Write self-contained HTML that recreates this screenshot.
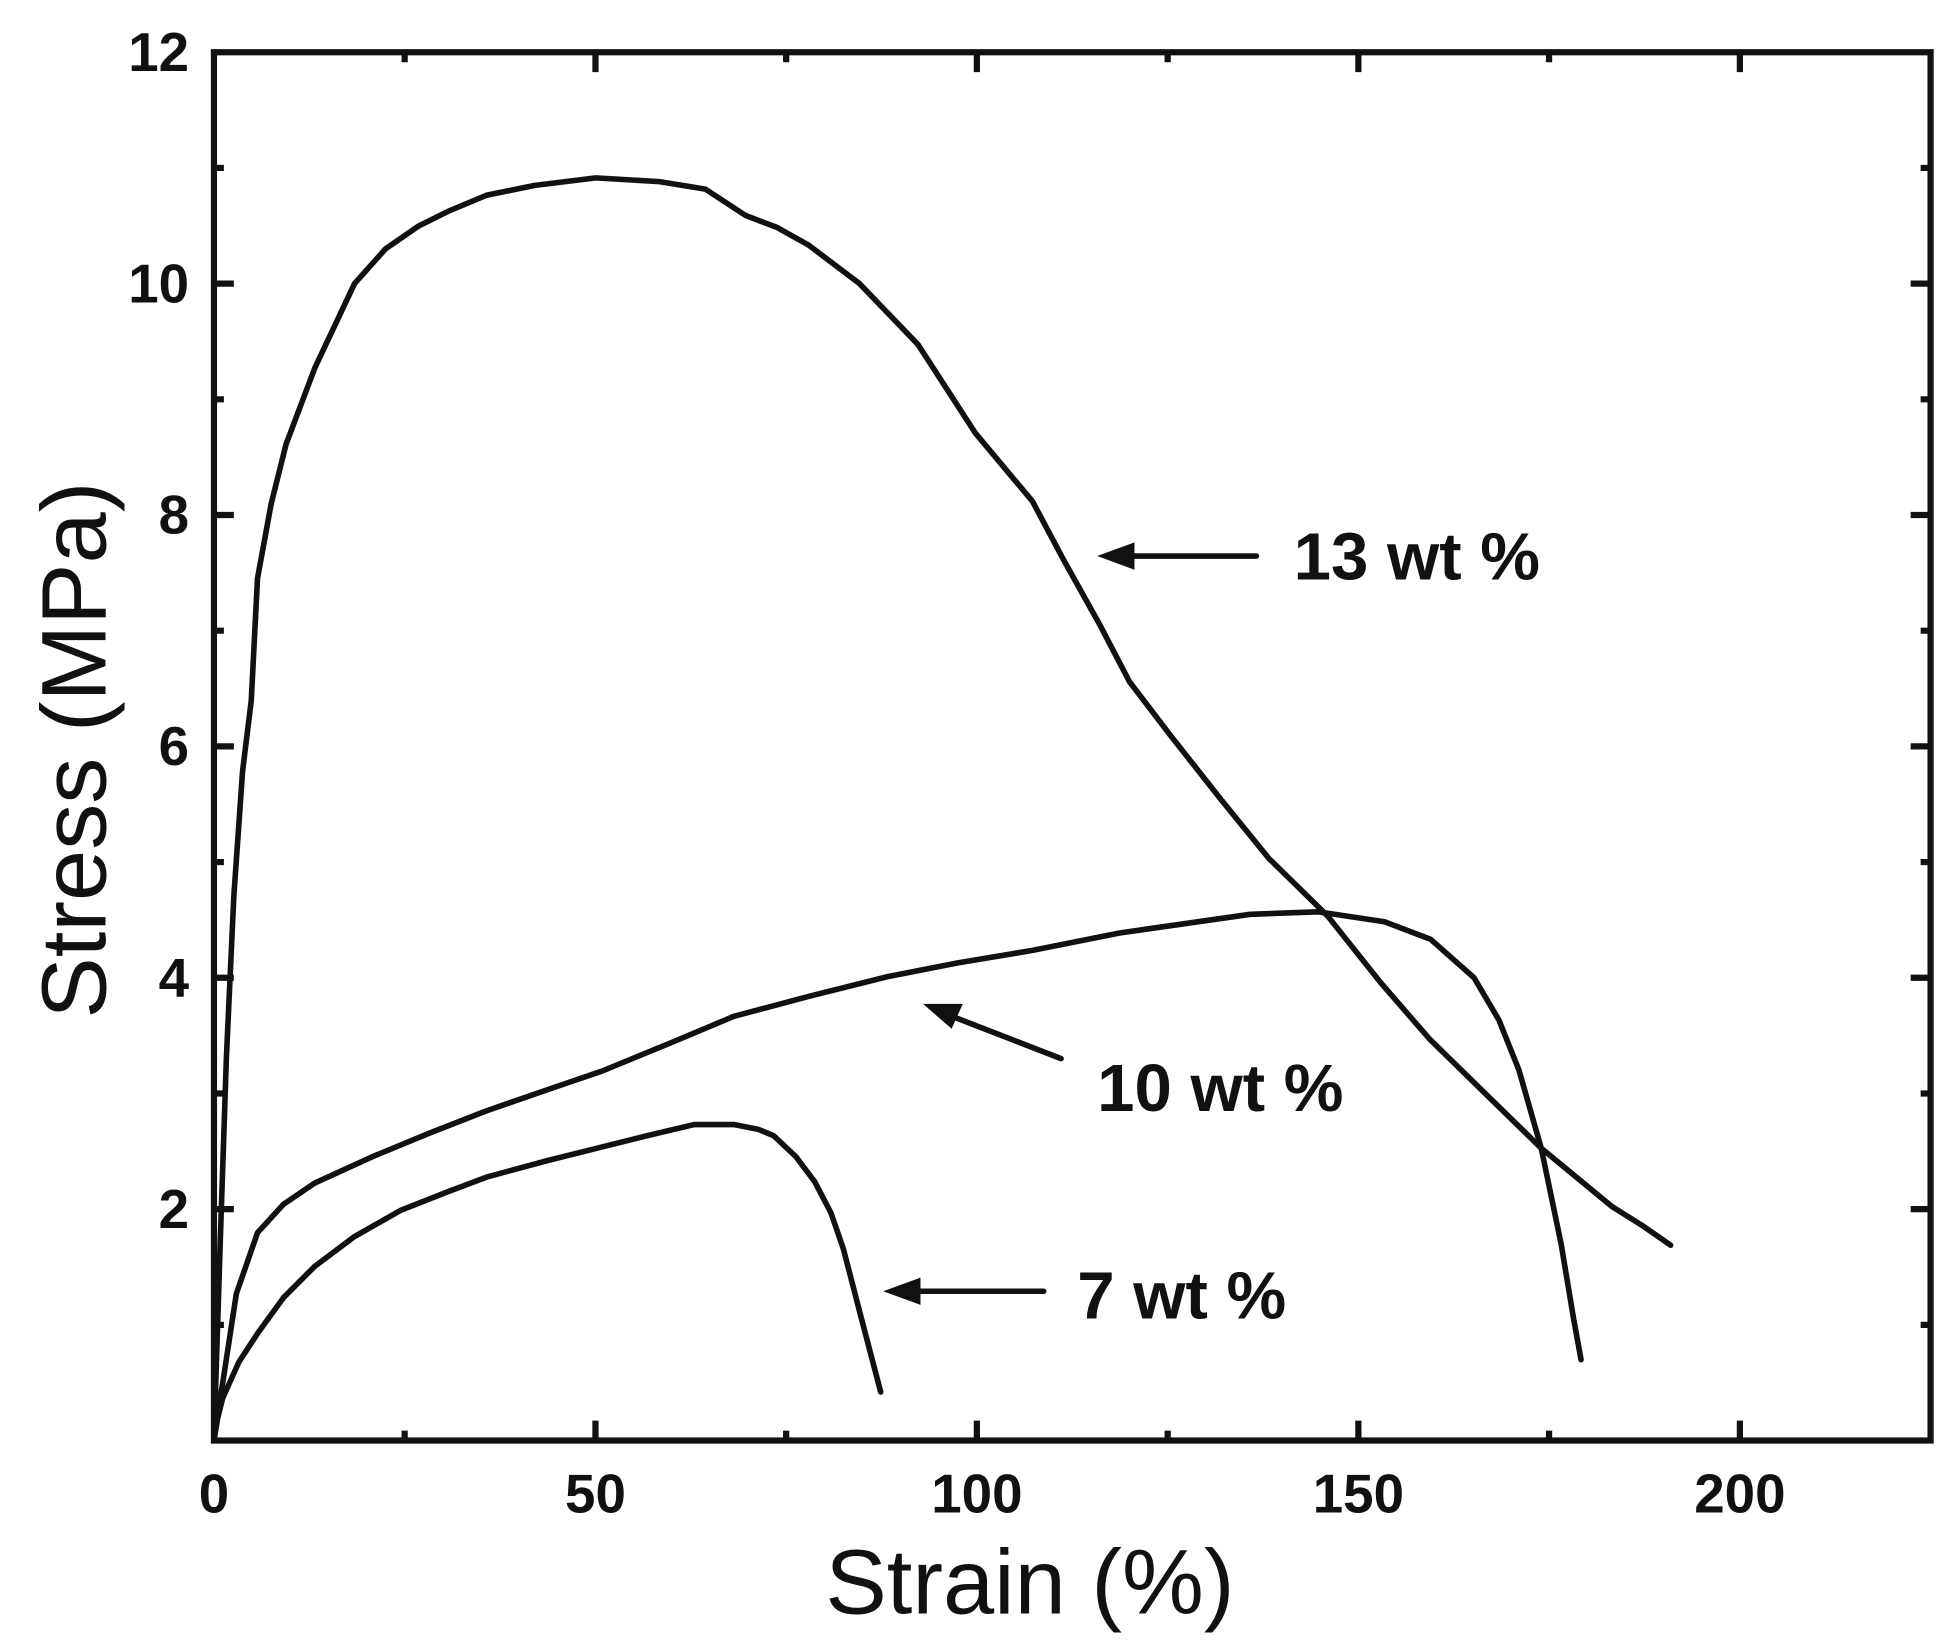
<!DOCTYPE html>
<html><head><meta charset="utf-8"><style>
html,body{margin:0;padding:0;background:#fff;width:1948px;height:1652px;overflow:hidden}
svg{display:block}
text{font-family:"Liberation Sans",Arial,sans-serif;fill:#111}
</style></head><body>
<svg width="1948" height="1652" viewBox="0 0 1566 1328" preserveAspectRatio="none" xmlns="http://www.w3.org/2000/svg">
<rect width="1566" height="1328" fill="#fff"/>
<g stroke="#111" stroke-width="5" fill="none">
<rect x="172" y="42" width="1380" height="1116"/>
<path d="M325.3 1158v-8 M478.7 1158v-16 M632 1158v-8 M785.3 1158v-16 M938.7 1158v-8 M1092 1158v-16 M1245.3 1158v-8 M1398.7 1158v-16"/>
<path d="M325.3 42v8 M478.7 42v16 M632 42v8 M785.3 42v16 M938.7 42v8 M1092 42v16 M1245.3 42v8 M1398.7 42v16"/>
<path d="M172 1065h8 M172 972h16 M172 879h8 M172 786h16 M172 693h8 M172 600h16 M172 507h8 M172 414h16 M172 321h8 M172 228h16 M172 135h8"/>
<path d="M1552 1065h-8 M1552 972h-16 M1552 879h-8 M1552 786h-16 M1552 693h-8 M1552 600h-16 M1552 507h-8 M1552 414h-16 M1552 321h-8 M1552 228h-16 M1552 135h-8"/>
</g>
<g stroke="#111" stroke-width="4.5" fill="none" stroke-linejoin="round" stroke-linecap="round">
<path d="M172 1158 L177 1000 L182 850 L188 720 L195 620 L202 563 L207 465 L218 405 L230 357 L253 296 L285 228 L310 200 L336 182 L360 170 L391 157 L430 149 L479 143 L530 146 L567 152 L599 173 L625 183 L650 197 L691 228 L738 277 L784 348 L830 403 L855 450 L884 502 L908 548 L940 590 L981 642 L1020 690 L1067 736 L1110 790 L1149 835 L1195 880 L1239 923 L1296 970 L1320 985 L1343 1001"/>
<path d="M172 1158 L175 1135 L179 1112 L190 1040 L207 991 L228 968 L253 951 L299 930 L345 911 L391 893 L440 876 L484 861 L540 838 L590 817 L650 801 L714 785 L770 774 L830 764 L900 750 L1005 735 L1060 733 L1113 741 L1150 755 L1185 786 L1205 820 L1221 860 L1239 923 L1255 1000 L1265 1060 L1271 1093"/>
<path d="M172 1158 L175 1140 L179 1124 L192 1095 L207 1072 L228 1043 L253 1018 L285 994 L322 973 L360 958 L392 946 L440 933 L484 922 L520 913 L558 904 L590 904 L610 908 L622 913 L640 930 L655 950 L668 975 L678 1004 L692 1058 L708 1119"/>
<path d="M1010 447 H895 M853 851 L755 813 M839 1038 H722"/>
</g>
<g fill="#111">
<polygon points="882,447 912,436 912,458"/>
<polygon points="742,807 774,807 765,827"/>
<polygon points="710,1038 740,1027 740,1049"/>
</g>
<g font-weight="bold" font-size="54">
<text x="1040" y="466">13 wt %</text>
<text x="882" y="893">10 wt %</text>
<text x="866" y="1060">7 wt %</text>
</g>
<g font-weight="bold" font-size="44" text-anchor="end">
<text x="152" y="987">2</text>
<text x="152" y="801">4</text>
<text x="152" y="615">6</text>
<text x="152" y="429">8</text>
<text x="152" y="243">10</text>
<text x="152" y="57">12</text>
</g>
<g font-weight="bold" font-size="44" text-anchor="middle">
<text x="172" y="1216">0</text>
<text x="478.7" y="1216">50</text>
<text x="785.3" y="1216">100</text>
<text x="1092" y="1216">150</text>
<text x="1398.7" y="1216">200</text>
</g>
<text x="828" y="1297" font-size="74" text-anchor="middle">Strain (%)</text>
<text transform="translate(85,603) rotate(-90)" font-size="74" text-anchor="middle">Stress  (MPa)</text>
</svg>
</body></html>
